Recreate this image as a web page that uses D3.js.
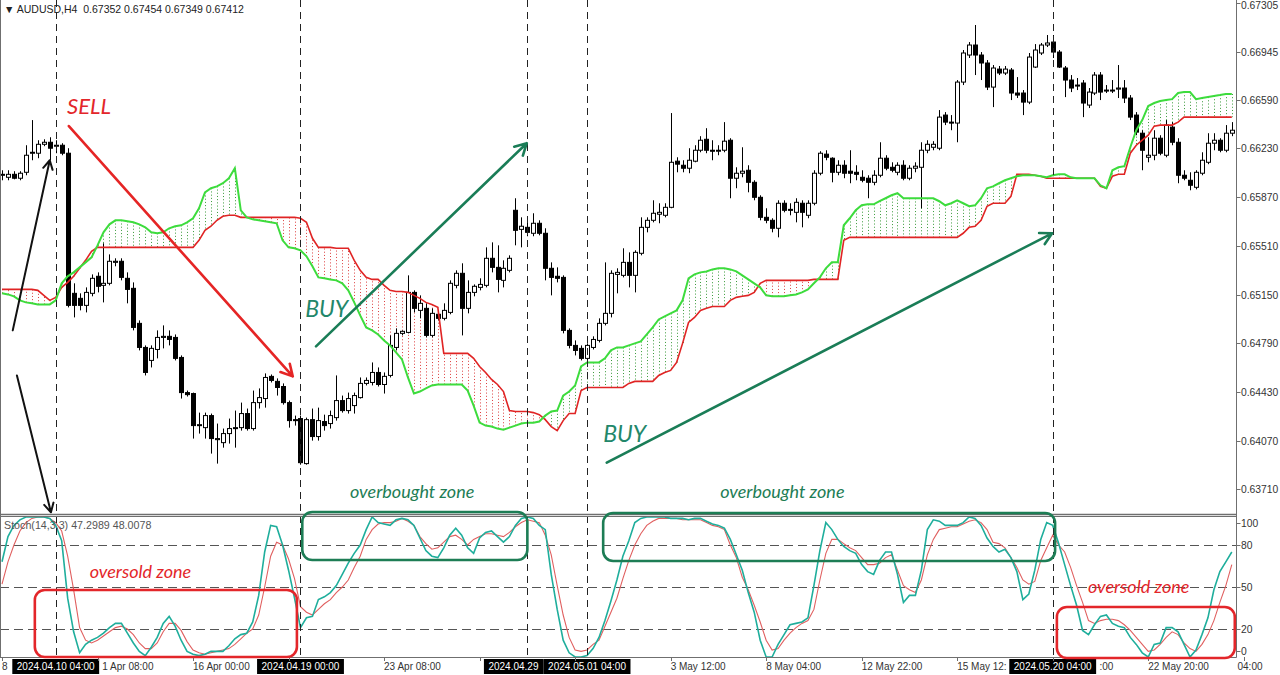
<!DOCTYPE html>
<html><head><meta charset="utf-8">
<script src="https://cdn.jsdelivr.net/npm/d3@7"></script>
<style>
html,body{margin:0;padding:0;background:#fff;}
svg{display:block;}
</style></head>
<body>
<svg id="chart" width="1280" height="675"></svg>
<script>
// ---------------- DATA ----------------
const symbolTitle = "AUDUSD,H4";
const lastQuote = ["0.67352", "0.67454", "0.67349", "0.67412"];
const stochTitle = "Stoch(14,3,3) 47.2989 48.0078";

const openP = [
0.66032,0.66017,0.66039,0.66010,0.66054,0.66195,0.66195,0.66261,0.66276,0.66247,
0.66254,0.66195,0.65159,0.65122,0.65070,0.65159,0.65285,0.65218,0.65233,0.65388,
0.65396,0.65270,0.65196,0.64937,0.64759,0.64663,0.64744,0.64833,0.64841,0.64833,
0.64685,0.64425,0.64418,0.64181,0.64166,0.64255,0.64077,0.64055,0.64122,0.64159,
0.64166,0.64270,0.64159,0.64351,0.64381,0.64545,0.64508,0.64470,0.64351,0.64225,
0.64233,0.63900,0.64225,0.64100,0.64211,0.64196,0.64240,0.64366,0.64292,0.64329,
0.64388,0.64493,0.64500,0.64574,0.64485,0.64552,0.64759,0.64863,0.64870,0.65166,
0.65033,0.65048,0.64848,0.65004,0.64974,0.65018,0.65218,0.65307,0.65048,0.65166,
0.65203,0.65218,0.65418,0.65351,0.65255,0.65329,0.65773,0.65632,0.65647,0.65603,
0.65677,0.65603,0.65344,0.65285,0.65277,0.64885,0.64774,0.64752,0.64678,0.64759,
0.64811,0.64937,0.65011,0.65299,0.65292,0.65388,0.65292,0.65455,0.65647,0.65699,
0.65744,0.65736,0.65795,0.66136,0.66106,0.66084,0.66136,0.66217,0.66298,0.66217,
0.66210,0.66217,0.66291,0.66010,0.66047,0.66069,0.65980,0.65869,0.65721,0.65699,
0.65640,0.65825,0.65780,0.65758,0.65825,0.65736,0.65825,0.66047,0.66188,0.66158,
0.66054,0.66106,0.66062,0.66054,0.66017,0.66010,0.65980,0.66032,0.66158,0.66091,
0.66054,0.66106,0.66010,0.66084,0.66091,0.66217,0.66239,0.66232,0.66477,0.66425,
0.66418,0.66721,0.66921,0.66995,0.66921,0.66862,0.66684,0.66817,0.66788,0.66810,
0.66640,0.66640,0.66573,0.66832,0.66936,0.66995,0.67017,0.66943,0.66825,0.66736,
0.66699,0.66714,0.66551,0.66640,0.66773,0.66662,0.66655,0.66669,0.66677,0.66603,
0.66477,0.66343,0.66165,0.66180,0.66306,0.66180,0.66388,0.66276,0.66032,0.65995,
0.65943,0.66047,0.66128,0.66269,0.66291,0.66217,0.66343];

const highP = [
0.66069,0.66069,0.66062,0.66062,0.66254,0.66440,0.66291,0.66298,0.66313,0.66291,
0.66269,0.66232,0.65233,0.65159,0.65203,0.65299,0.65314,0.65529,0.65447,0.65418,
0.65418,0.65314,0.65240,0.64959,0.64774,0.64774,0.64885,0.64922,0.64885,0.64855,
0.64700,0.64440,0.64425,0.64277,0.64277,0.64270,0.64196,0.64159,0.64233,0.64292,
0.64351,0.64307,0.64440,0.64456,0.64567,0.64559,0.64530,0.64493,0.64366,0.64255,
0.64255,0.64240,0.64307,0.64314,0.64262,0.64292,0.64552,0.64403,0.64425,0.64425,
0.64537,0.64537,0.64648,0.64611,0.64574,0.64848,0.64900,0.64885,0.65292,0.65181,
0.65144,0.65085,0.65048,0.65018,0.65085,0.65255,0.65329,0.65381,0.65255,0.65225,
0.65270,0.65499,0.65536,0.65514,0.65403,0.65440,0.65862,0.65721,0.65699,0.65751,
0.65699,0.65640,0.65388,0.65351,0.65292,0.64900,0.64811,0.64774,0.64789,0.64841,
0.64974,0.65388,0.65329,0.65344,0.65492,0.65462,0.65477,0.65721,0.65721,0.65847,
0.65825,0.65825,0.66492,0.66165,0.66143,0.66232,0.66254,0.66321,0.66380,0.66291,
0.66254,0.66425,0.66306,0.66091,0.66239,0.66106,0.65995,0.65884,0.65788,0.65714,
0.65847,0.65847,0.65825,0.65862,0.65847,0.65847,0.66069,0.66210,0.66217,0.66165,
0.66143,0.66143,0.66217,0.66106,0.66069,0.66032,0.66069,0.66276,0.66180,0.66128,
0.66128,0.66143,0.66106,0.66128,0.66276,0.66291,0.66284,0.66514,0.66499,0.66477,
0.66736,0.66958,0.67017,0.67143,0.66943,0.66884,0.66847,0.66840,0.66840,0.66825,
0.66758,0.66662,0.66936,0.67002,0.67010,0.67069,0.67069,0.66958,0.66840,0.66773,
0.66751,0.66736,0.66677,0.66795,0.66795,0.66699,0.66736,0.66847,0.66736,0.66625,
0.66499,0.66365,0.66313,0.66365,0.66328,0.66440,0.66425,0.66306,0.66069,0.66054,
0.66069,0.66202,0.66343,0.66343,0.66306,0.66403,0.66425];

const lowP = [
0.65995,0.65995,0.66002,0.65995,0.66032,0.66143,0.66158,0.66247,0.66143,0.66195,
0.66180,0.65055,0.64981,0.65033,0.65018,0.65137,0.65166,0.65092,0.65218,0.65359,
0.65255,0.65085,0.64885,0.64737,0.64552,0.64611,0.64678,0.64752,0.64774,0.64663,
0.64381,0.64396,0.64085,0.64122,0.64085,0.63974,0.63900,0.64018,0.64048,0.64018,
0.64144,0.64144,0.64144,0.64307,0.64314,0.64500,0.64403,0.64336,0.64166,0.64181,
0.63892,0.63892,0.64070,0.64070,0.64144,0.64159,0.64218,0.64277,0.64270,0.64270,
0.64381,0.64478,0.64478,0.64470,0.64418,0.64537,0.64737,0.64848,0.64863,0.65018,
0.64974,0.64833,0.64833,0.64959,0.64959,0.65004,0.65196,0.64848,0.65011,0.65137,
0.65181,0.65203,0.65314,0.65166,0.65203,0.65314,0.65514,0.65499,0.65581,0.65581,
0.65588,0.65255,0.65144,0.65240,0.64863,0.64752,0.64700,0.64663,0.64663,0.64744,
0.64796,0.64922,0.64981,0.65159,0.65277,0.65203,0.65166,0.65440,0.65610,0.65684,
0.65677,0.65721,0.65788,0.66054,0.66054,0.66047,0.66128,0.66202,0.66195,0.66143,
0.66180,0.66202,0.65862,0.65936,0.66017,0.65906,0.65847,0.65699,0.65677,0.65610,
0.65573,0.65758,0.65736,0.65684,0.65647,0.65714,0.65810,0.66032,0.66143,0.65980,
0.66032,0.66010,0.65973,0.65995,0.65980,0.65862,0.65958,0.66017,0.66069,0.66054,
0.66032,0.65995,0.65995,0.66054,0.65788,0.66195,0.66217,0.66217,0.66403,0.66365,
0.66276,0.66699,0.66899,0.66773,0.66736,0.66662,0.66536,0.66773,0.66773,0.66588,
0.66603,0.66477,0.66558,0.66825,0.66921,0.66980,0.66899,0.66825,0.66610,0.66647,
0.66662,0.66462,0.66529,0.66625,0.66588,0.66640,0.66640,0.66603,0.66566,0.66440,
0.66328,0.66069,0.66128,0.66143,0.66180,0.66165,0.66254,0.65973,0.65995,0.65921,
0.65928,0.66032,0.66114,0.66217,0.66202,0.66202,0.66321];

const closeP = [
0.66039,0.66039,0.66010,0.66047,0.66180,0.66202,0.66261,0.66276,0.66232,0.66254,
0.66195,0.65070,0.65070,0.65070,0.65166,0.65270,0.65211,0.65233,0.65396,0.65396,
0.65277,0.65188,0.64907,0.64759,0.64574,0.64752,0.64833,0.64841,0.64818,0.64678,
0.64425,0.64410,0.64181,0.64188,0.64255,0.64085,0.64085,0.64122,0.64159,0.64166,
0.64270,0.64159,0.64351,0.64388,0.64537,0.64515,0.64463,0.64351,0.64218,0.64218,
0.63907,0.64225,0.64100,0.64218,0.64181,0.64255,0.64366,0.64292,0.64381,0.64403,
0.64493,0.64515,0.64574,0.64485,0.64545,0.64774,0.64863,0.64878,0.65166,0.65048,
0.65085,0.64848,0.65011,0.64974,0.65033,0.65233,0.65307,0.65048,0.65166,0.65211,
0.65225,0.65418,0.65351,0.65262,0.65344,0.65418,0.65625,0.65655,0.65610,0.65677,
0.65603,0.65344,0.65277,0.65270,0.64885,0.64774,0.64737,0.64678,0.64774,0.64818,
0.64937,0.65011,0.65307,0.65314,0.65388,0.65292,0.65462,0.65647,0.65699,0.65751,
0.65758,0.65795,0.66128,0.66114,0.66084,0.66143,0.66217,0.66291,0.66217,0.66210,
0.66217,0.66284,0.66010,0.66047,0.66062,0.65980,0.65869,0.65721,0.65699,0.65640,
0.65825,0.65773,0.65773,0.65832,0.65758,0.65825,0.66047,0.66195,0.66165,0.66054,
0.66106,0.66047,0.66047,0.66039,0.65995,0.65980,0.66032,0.66158,0.66084,0.66069,
0.66106,0.66010,0.66084,0.66099,0.66217,0.66261,0.66261,0.66462,0.66425,0.66418,
0.66721,0.66936,0.66995,0.66921,0.66862,0.66684,0.66825,0.66788,0.66817,0.66640,
0.66625,0.66573,0.66906,0.66958,0.66995,0.67010,0.66943,0.66832,0.66736,0.66677,
0.66692,0.66566,0.66647,0.66773,0.66647,0.66655,0.66662,0.66677,0.66603,0.66462,
0.66351,0.66217,0.66180,0.66306,0.66195,0.66403,0.66276,0.66032,0.66010,0.65958,
0.66054,0.66143,0.66269,0.66291,0.66217,0.66343,0.66365];

// Ichimoku Senkou Span A (green) and Span B (red)
const spanA = [
0.65159,0.65151,0.65137,0.65107,0.65092,0.65085,0.65077,0.65077,0.65077,0.65107,
0.65233,0.65285,0.65314,0.65351,0.65388,0.65425,0.65514,0.65610,0.65669,0.65699,
0.65699,0.65692,0.65684,0.65669,0.65647,0.65610,0.65603,0.65610,0.65640,0.65655,
0.65662,0.65684,0.65714,0.65788,0.65906,0.65936,0.65950,0.65973,0.66010,0.66084,
0.65773,0.65721,0.65706,0.65699,0.65692,0.65684,0.65677,0.65551,0.65499,0.65492,
0.65477,0.65433,0.65359,0.65277,0.65270,0.65262,0.65255,0.65233,0.65181,0.65092,
0.64996,0.64907,0.64885,0.64855,0.64811,0.64774,0.64722,0.64670,0.64537,0.64418,
0.64433,0.64456,0.64478,0.64485,0.64485,0.64485,0.64485,0.64485,0.64440,0.64329,
0.64203,0.64181,0.64174,0.64159,0.64151,0.64166,0.64181,0.64196,0.64203,0.64203,
0.64211,0.64255,0.64285,0.64292,0.64403,0.64433,0.64478,0.64618,0.64648,0.64648,
0.64648,0.64678,0.64737,0.64759,0.64759,0.64774,0.64789,0.64803,0.64855,0.64907,
0.64966,0.64989,0.65011,0.65033,0.65107,0.65270,0.65299,0.65314,0.65321,0.65336,
0.65344,0.65344,0.65336,0.65321,0.65292,0.65262,0.65233,0.65203,0.65144,0.65137,
0.65137,0.65137,0.65144,0.65151,0.65166,0.65188,0.65233,0.65277,0.65344,0.65388,
0.65388,0.65662,0.65714,0.65773,0.65810,0.65817,0.65817,0.65840,0.65862,0.65884,
0.65899,0.65862,0.65862,0.65862,0.65862,0.65862,0.65862,0.65840,0.65810,0.65825,
0.65847,0.65825,0.65803,0.65810,0.65862,0.65936,0.65950,0.65973,0.65995,0.66010,
0.66025,0.66032,0.66032,0.66032,0.66025,0.66017,0.66032,0.66039,0.66039,0.66017,
0.66010,0.66010,0.66010,0.66010,0.65958,0.65936,0.66069,0.66091,0.66099,0.66239,
0.66365,0.66440,0.66544,0.66566,0.66581,0.66588,0.66595,0.66640,0.66647,0.66647,
0.66595,0.66603,0.66610,0.66618,0.66625,0.66633,0.66633];

const spanB = [
0.65188,0.65188,0.65188,0.65188,0.65188,0.65188,0.65181,0.65144,0.65107,0.65129,
0.65203,0.65240,0.65285,0.65344,0.65403,0.65470,0.65499,0.65499,0.65499,0.65499,
0.65499,0.65499,0.65499,0.65499,0.65499,0.65499,0.65499,0.65499,0.65499,0.65499,
0.65499,0.65499,0.65499,0.65551,0.65625,0.65655,0.65699,0.65729,0.65736,0.65736,
0.65721,0.65721,0.65721,0.65721,0.65721,0.65721,0.65721,0.65721,0.65721,0.65721,
0.65714,0.65684,0.65566,0.65499,0.65499,0.65499,0.65492,0.65492,0.65492,0.65403,
0.65329,0.65277,0.65262,0.65262,0.65218,0.65181,0.65173,0.65173,0.65166,0.65144,
0.65122,0.65092,0.65077,0.65055,0.64715,0.64715,0.64715,0.64715,0.64715,0.64678,
0.64618,0.64574,0.64522,0.64485,0.64433,0.64292,0.64285,0.64285,0.64285,0.64277,
0.64262,0.64225,0.64174,0.64144,0.64218,0.64270,0.64270,0.64440,0.64463,0.64463,
0.64463,0.64463,0.64463,0.64463,0.64463,0.64493,0.64508,0.64508,0.64508,0.64508,
0.64552,0.64574,0.64589,0.64648,0.64789,0.64944,0.64981,0.65033,0.65048,0.65062,
0.65062,0.65062,0.65107,0.65129,0.65137,0.65144,0.65166,0.65233,0.65255,0.65255,
0.65255,0.65255,0.65255,0.65255,0.65255,0.65255,0.65262,0.65262,0.65262,0.65262,
0.65262,0.65551,0.65573,0.65573,0.65573,0.65573,0.65573,0.65573,0.65573,0.65573,
0.65573,0.65573,0.65573,0.65573,0.65573,0.65573,0.65573,0.65573,0.65573,0.65573,
0.65573,0.65603,0.65647,0.65655,0.65699,0.65803,0.65825,0.65825,0.65825,0.65876,
0.66039,0.66039,0.66039,0.66032,0.66025,0.66010,0.66010,0.66010,0.66010,0.66010,
0.66010,0.66010,0.66010,0.66010,0.65951,0.65936,0.66025,0.66039,0.66039,0.66195,
0.66254,0.66291,0.66328,0.66395,0.66403,0.66403,0.66403,0.66425,0.66462,0.66462,
0.66462,0.66462,0.66462,0.66462,0.66462,0.66462,0.66462];

// Stochastic %K (teal) and %D (red)
const stochK = [
68,86,94,98,100,100,100,100,99,94,
83,42,18,3,9,12,14,17,21,24,
24,17,10,4,1,7,14,24,29,22,
12,4,2,1,2,4,4,4,8,13,
16,17,25,44,75,94,93,80,62,42,
21,28,29,41,43,46,51,59,67,74,
80,91,100,96,95,94,98,99,98,94,
85,76,72,71,78,87,92,87,78,74,
85,89,90,86,82,86,94,99,100,99,
94,91,59,34,12,3,0,0,1,6,
14,26,40,55,72,83,96,99,100,100,
100,100,99,99,99,98,99,99,97,95,
94,92,84,73,62,46,32,12,0,0,
9,16,23,24,25,28,51,76,96,91,
84,79,76,74,66,61,59,69,75,75,
59,39,44,44,62,91,98,97,94,94,
94,96,100,99,94,85,79,75,77,71,
61,41,45,62,84,96,94,81,66,51,
37,19,16,23,29,30,24,22,21,14,
9,3,0,9,10,21,21,18,9,0,
5,16,28,48,61,68,75];

const stochD = [
52,68,80,90,96,99,100,100,99,96,
90,72,48,21,12,10,12,15,18,21,
22,20,16,10,6,6,10,18,24,24,
19,11,5,3,2,3,4,5,6,9,
13,17,20,30,50,72,82,80,70,56,
36,32,30,34,38,41,46,50,55,64,
72,84,91,95,96,96,97,99,97,94,
86,81,77,78,82,86,87,84,80,84,
86,88,88,87,86,89,93,96,98,97,
96,87,73,51,30,14,5,4,5,9,
12,22,32,42,56,69,80,88,94,97,
99,99,99,99,98,98,98,98,96,94,
93,91,80,71,57,48,37,25,12,5,
6,12,17,21,24,26,34,55,74,84,
84,81,78,76,71,66,66,67,71,73,
62,51,48,46,55,73,84,91,92,93,
93,95,97,98,96,91,82,81,78,71,
64,55,52,54,69,78,87,80,75,64,
51,39,26,24,26,27,27,26,23,19,
14,9,4,5,9,14,18,16,10,6,
4,9,16,26,39,51,66];

const priceTicks = [0.67305,0.66945,0.66590,0.66230,0.65870,0.65510,0.65150,0.64790,0.64430,0.64070,0.63710];
const stochLevels = [80,50,20];
const stochTicks = [100,80,50,20,0];
const timeTickIdx = [0,16,32,48,64,80,96,112,128,144,160,176,192,208];
const timeTickLabels = ["8 Apr 16:00","11 Apr 08:00","16 Apr 00:00","18 Apr 16:00","23 Apr 08:00","26 Apr 00:00","30 Apr 16:00","3 May 12:00","8 May 04:00","12 May 22:00","15 May 12:00","20 May 04:00","22 May 20:00","04:00"];
const markerIdx = [9,50,88,98,176];
const markerLabels = ["2024.04.10 04:00","2024.04.19 00:00","2024.04.29 08:00","2024.05.01 04:00","2024.05.20 04:00"];

// Annotations (bar index / price or stoch value)
const arrowKind = ["sell","buy","buy","note","note"];
const arrowFromIdx = [11.2,52.6,101.3,1.8,2.5];
const arrowFromVal = [0.66396,0.64767,0.63907,0.64885,0.64552];
const arrowToIdx = [48.7,87.9,175.9,8.0,8.2];
const arrowToVal = [0.64545,0.66269,0.65603,0.66143,0.63540];
const signalText = ["SELL","BUY","BUY"];
const signalIdx = [10.9,50.8,100.7];
const signalVal = [0.66484,0.64981,0.64062];
const zoneKind = ["overbought","overbought","oversold","oversold"];
const zoneText = ["overbought zone","overbought zone","oversold zone","oversold zone"];
const zoneTextIdx = [58.3,120.3,14.7,181.9];
const zoneTextPrice = [0.63648,0.63648,null,null];
const zoneTextStoch = [null,null,56.4,45.7];
const zoneFromIdx = [50.3,100.7,5.5,176.7];
const zoneToIdx = [88.0,176.4,49.4,206.5];
const zoneTopVal = [103.6,102.9,47.9,35.7];
const zoneBottomVal = [69.3,68.6,0,-0.7];

// ---------------- DRAW ----------------
const plotR = 1236.5, mainB = 514, stT = 516, stB = 657;
const svg = d3.select('#chart');
svg.append('rect').attr('width',1280).attr('height',675).attr('fill','#fff');
const n = closeP.length;
const idx = d3.range(n);
const x = d3.scaleLinear().domain([0,206]).range([2,1231.8]);
const yP = d3.scaleLinear().domain([0.63710,0.67305]).range([489.3,3.1]);
const yS = d3.scaleLinear().domain([0,100]).range([657,517]);
const axisFont = "'Liberation Sans', Arial, sans-serif";
const noteFont = "Lato, 'Open Sans', sans-serif";
const GREEN_NOTE = "#1d7d55", RED_NOTE = "#e3262a";

const defs = svg.append('defs');
defs.append('clipPath').attr('id','clipMain').append('rect').attr('x',0).attr('y',0).attr('width',plotR).attr('height',mainB);
defs.append('clipPath').attr('id','clipSt').append('rect').attr('x',0).attr('y',stT+0.5).attr('width',plotR).attr('height',stB-stT);

// ---- main panel ----
const gMain = svg.append('g').attr('clip-path','url(#clipMain)');
gMain.append('g').selectAll('line').data(idx.filter(i=>Math.abs(spanA[i]-spanB[i])>0.00003)).join('line')
  .attr('x1',i=>Math.round(x(i))+0.5).attr('x2',i=>Math.round(x(i))+0.5)
  .attr('y1',i=>yP(spanA[i])).attr('y2',i=>yP(spanB[i]))
  .attr('stroke',i=>spanA[i]>spanB[i]?'#3a9a3a':'#dc3c3c')
  .attr('stroke-width',1).attr('stroke-dasharray','1,2.2');

const gC = gMain.append('g');
gC.selectAll('line').data(idx).join('line')
  .attr('x1',i=>Math.round(x(i))+0.5).attr('x2',i=>Math.round(x(i))+0.5)
  .attr('y1',i=>yP(highP[i])).attr('y2',i=>yP(lowP[i]))
  .attr('stroke','#000').attr('stroke-width',1);
gC.selectAll('rect').data(idx).join('rect')
  .attr('x',i=>Math.round(x(i))-1.5).attr('width',4)
  .attr('y',i=>Math.min(yP(openP[i]),yP(closeP[i])))
  .attr('height',i=>Math.max(1,Math.abs(yP(openP[i])-yP(closeP[i]))))
  .attr('fill',i=>closeP[i]>=openP[i]?'#fff':'#000')
  .attr('stroke','#000').attr('stroke-width',1);

const lineP = arr => d3.line().x((d,i)=>x(i)).y(d=>yP(d))(arr);
gMain.append('path').attr('d',lineP(spanB)).attr('fill','none').attr('stroke','#e02424').attr('stroke-width',1.6);
gMain.append('path').attr('d',lineP(spanA)).attr('fill','none').attr('stroke','#3ddc3d').attr('stroke-width',2);

// ---- stochastic panel ----
const gSt = svg.append('g').attr('clip-path','url(#clipSt)');
gSt.selectAll('line.lvl').data(stochLevels).join('line').attr('class','lvl')
  .attr('x1',0).attr('x2',plotR).attr('y1',d=>Math.round(yS(d))+0.5).attr('y2',d=>Math.round(yS(d))+0.5)
  .attr('stroke','#555').attr('stroke-width',1).attr('stroke-dasharray','9,5');
const lineS = arr => d3.line().x((d,i)=>x(i)).y(d=>yS(d))(arr);
gSt.append('path').attr('d',lineS(stochD)).attr('fill','none').attr('stroke','#e06060').attr('stroke-width',1.1);
gSt.append('path').attr('d',lineS(stochK)).attr('fill','none').attr('stroke','#1fae9c').attr('stroke-width',1.6);

// ---- vertical markers ----
svg.append('g').selectAll('line').data(markerIdx).join('line')
  .attr('x1',d=>Math.round(x(d))+0.5).attr('x2',d=>Math.round(x(d))+0.5)
  .attr('y1',0).attr('y2',stB)
  .attr('stroke','#222').attr('stroke-width',1).attr('stroke-dasharray','7,5');

// ---- frame ----
const frame = svg.append('g').attr('stroke','#6f6f6f').attr('stroke-width',1);
frame.append('line').attr('x1',plotR).attr('x2',plotR).attr('y1',0).attr('y2',stB+0.5);
frame.append('line').attr('x1',0.5).attr('x2',0.5).attr('y1',0).attr('y2',stB+0.5);
frame.append('line').attr('x1',0).attr('x2',plotR).attr('y1',mainB+0.5).attr('y2',mainB+0.5).attr('stroke-width',1.5);
frame.append('line').attr('x1',0).attr('x2',plotR).attr('y1',stT+0.5).attr('y2',stT+0.5);
frame.append('line').attr('x1',0).attr('x2',plotR).attr('y1',stB+0.5).attr('y2',stB+0.5);

// ---- right price axis ----
const ax = svg.append('g').attr('font-family',axisFont).attr('font-size','10.3px').attr('fill','#333');
ax.selectAll('line.pt').data(priceTicks).join('line').attr('class','pt')
  .attr('x1',plotR).attr('x2',plotR+4).attr('y1',d=>Math.round(yP(d))+0.5).attr('y2',d=>Math.round(yP(d))+0.5)
  .attr('stroke','#6f6f6f');
ax.selectAll('text.pt').data(priceTicks).join('text').attr('class','pt')
  .attr('x',plotR+4.5).attr('y',d=>Math.max(yP(d)+4,9)).text(d=>d.toFixed(5));
const stClamp = d => Math.min(Math.max(yS(d),523),651);
ax.selectAll('line.st').data(stochTicks).join('line').attr('class','st')
  .attr('x1',plotR).attr('x2',plotR+4)
  .attr('y1',d=>Math.round(stClamp(d))+0.5).attr('y2',d=>Math.round(stClamp(d))+0.5)
  .attr('stroke','#6f6f6f');
ax.selectAll('text.st').data(stochTicks).join('text').attr('class','st')
  .attr('x',plotR+4.5).attr('y',d=>stClamp(d)+4).text(d=>d);

// ---- marker date boxes (measure) ----
const tf = svg.append('g').attr('font-family',axisFont).attr('font-size','10px');
const boxInfo = markerIdx.map((m,k)=>{
  const t = tf.append('text').attr('x',x(m)).attr('y',670).attr('text-anchor','middle').attr('fill','#fff').text(markerLabels[k]);
  const w = t.node().getComputedTextLength()+9;
  return {t, x0:x(m)-w/2, x1:x(m)+w/2};
});
function visibleRun(t, str, blockers){
  const node = t.node(); const vis=[];
  for(let c=0;c<str.length;c++){
    const e = node.getExtentOfChar(c); const a=e.x, b=e.x+e.width;
    vis.push(!blockers.some(([p,q])=>Math.min(b,q)-Math.max(a,p)>1));
  }
  let best=[0,0], s=-1;
  for(let c=0;c<=str.length;c++){
    if(c<str.length && vis[c]){ if(s<0) s=c; }
    else if(s>=0){ if(c-s>best[1]-best[0]) best=[s,c]; s=-1; }
  }
  let [a,b]=best;
  while(a<b && str[a]===' ') a++;
  while(b>a && str[b-1]===' ') b--;
  if(b<=a) return null;
  return {a,b,x:node.getStartPositionOfChar(a).x};
}
const gTimes = tf.insert('g',':first-child').attr('fill','#333');
timeTickIdx.forEach((d,i)=>{
  tf.append('line').attr('x1',Math.round(x(d))+0.5).attr('x2',Math.round(x(d))+0.5).attr('y1',stB).attr('y2',stB+4).attr('stroke','#6f6f6f');
  const str = timeTickLabels[i];
  const tx = i===timeTickIdx.length-1 ? plotR+1 : x(d);
  const t = gTimes.append('text').attr('x',tx).attr('y',670).text(str);
  const r = visibleRun(t,str,boxInfo.map(b=>[b.x0,b.x1]));
  if(!r){ t.remove(); return; }
  t.attr('x',r.x).text(str.slice(r.a,r.b));
});
boxInfo.forEach((b,k)=>{
  const later = boxInfo.slice(k+1).map(o=>[o.x0,o.x1]);
  const r = visibleRun(b.t, markerLabels[k], later);
  let right = b.x1;
  later.forEach(([p,q])=>{ if(p<right && q>b.x0) right=Math.min(right,p); });
  if(r && r.b-r.a < markerLabels[k].length){
    b.t.attr('text-anchor','start').attr('x',r.x).text(markerLabels[k].slice(r.a,r.b));
  }
  tf.insert('rect',()=>b.t.node()).attr('x',b.x0).attr('y',659).attr('width',right-b.x0).attr('height',15).attr('fill','#000');
});

// ---- titles ----
svg.append('text').attr('x',4).attr('y',13).attr('font-family',axisFont).attr('font-size','10.5px').attr('fill','#222')
  .attr('xml:space','preserve').text('\u25BC ' + symbolTitle + '  ' + lastQuote.join(' '));
svg.append('text').attr('x',4).attr('y',529).attr('font-family',axisFont).attr('font-size','10.7px').attr('fill','#555')
  .text(stochTitle);

// ---- annotations ----
const ann = svg.append('g');
function arrowPath(x1,y1,x2,y2,L){
  const a = Math.atan2(y2-y1,x2-x1), s = 0.5;
  return `M${x1},${y1}L${x2},${y2}M${x2-L*Math.cos(a-s)},${y2-L*Math.sin(a-s)}L${x2},${y2}L${x2-L*Math.cos(a+s)},${y2-L*Math.sin(a+s)}`;
}
arrowKind.forEach((k,i)=>{
  const col = k==='sell'?'#e52525':(k==='buy'?'#1a7d57':'#111');
  const wd = k==='note'?2:2.6;
  ann.append('path').attr('d',arrowPath(x(arrowFromIdx[i]),yP(arrowFromVal[i]),x(arrowToIdx[i]),yP(arrowToVal[i]),k==='note'?10:13))
    .attr('fill','none').attr('stroke',col).attr('stroke-width',wd).attr('stroke-linecap','round').attr('stroke-linejoin','round');
});
signalText.forEach((t,i)=>{
  ann.append('text').attr('x',x(signalIdx[i])).attr('y',yP(signalVal[i]))
    .attr('font-family',noteFont).attr('font-style','italic').attr('font-size', t==='SELL'?'22px':'23px')
    .attr('fill', t==='SELL'?RED_NOTE:'#22876a').text(t);
});
zoneKind.forEach((k,i)=>{
  const col = k==='overbought'?GREEN_NOTE:RED_NOTE;
  const x0 = x(zoneFromIdx[i]), x1 = x(zoneToIdx[i]);
  const y0 = yS(zoneTopVal[i]), y1 = yS(zoneBottomVal[i]);
  ann.append('rect').attr('x',x0).attr('y',y0).attr('width',x1-x0).attr('height',y1-y0)
    .attr('rx',10).attr('ry',10).attr('fill','none').attr('stroke',col).attr('stroke-width',2.6);
  const ty = zoneTextPrice[i]!==null ? yP(zoneTextPrice[i]) : yS(zoneTextStoch[i]);
  ann.append('text').attr('x',x(zoneTextIdx[i])).attr('y',ty)
    .attr('font-family',noteFont).attr('font-style','italic').attr('font-size','18px')
    .attr('fill',col).text(zoneText[i]);
});
</script>
</body></html>
